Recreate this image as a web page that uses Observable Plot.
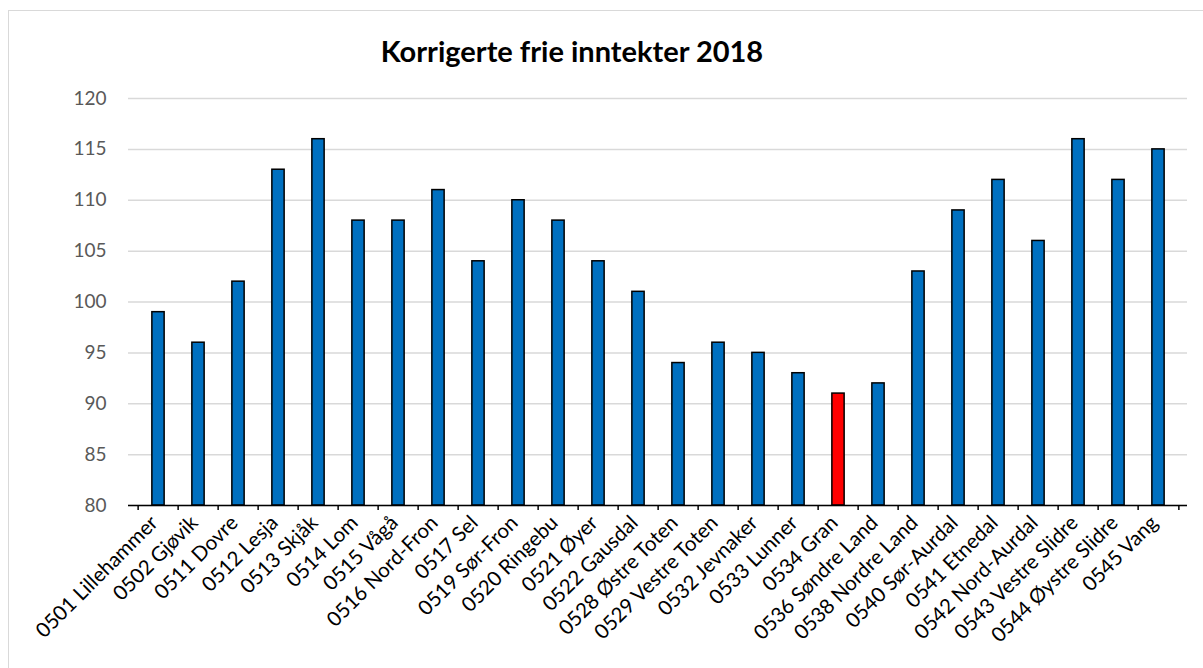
<!DOCTYPE html>
<html>
<head>
<meta charset="utf-8">
<script src="https://cdn.jsdelivr.net/npm/d3@7"></script>
<script src="https://cdn.jsdelivr.net/npm/@observablehq/plot@0.6"></script>
<style>
  html, body { margin: 0; padding: 0; background: #fff; }
  #wrap { position: relative; width: 1203px; height: 668px; overflow: hidden; font-family: Lato, "Open Sans", sans-serif; }
  #frame { position: absolute; left: 8px; top: 10px; width: 1220px; height: 700px; border: 1.5px solid #d9d9d9; box-sizing: border-box; }
  #title { position: absolute; left: 0; width: 1144px; top: 34px; text-align: center; font-weight: 700; font-size: 29px; color: #000; line-height: 34px; }
  #chart { position: absolute; left: 0; top: 75px; }
</style>
</head>
<body>
<div id="wrap">
  <div id="frame"></div>
  <div id="title">Korrigerte frie inntekter 2018</div>
  <div id="chart"></div>
</div>
<script>
const categories = [
  "0501 Lillehammer", "0502 Gjøvik", "0511 Dovre", "0512 Lesja", "0513 Skjåk",
  "0514 Lom", "0515 Vågå", "0516 Nord-Fron", "0517 Sel", "0519 Sør-Fron",
  "0520 Ringebu", "0521 Øyer", "0522 Gausdal", "0528 Østre Toten", "0529 Vestre Toten",
  "0532 Jevnaker", "0533 Lunner", "0534 Gran", "0536 Søndre Land", "0538 Nordre Land",
  "0540 Sør-Aurdal", "0541 Etnedal", "0542 Nord-Aurdal", "0543 Vestre Slidre", "0544 Øystre Slidre",
  "0545 Vang"
];
const values = [
  99, 96, 102, 113, 116,
  108, 108, 111, 104, 110,
  108, 104, 101, 94, 96,
  95, 93, 91, 92, 103,
  109, 112, 106, 116, 112,
  115
];
const highlighted = "0534 Gran";
const yTicks = [80, 85, 90, 95, 100, 105, 110, 115, 120];

const data = categories.map((name, i) => ({name, value: values[i]}));

const W = 1203, H = 593, ML = 128, MR = 16, MT = 23, MB = 163;
const bw = (W - ML - MR) / categories.length;
const barW = 13;
const inset = (bw - barW) / 2;

const chart = Plot.plot({
  width: W, height: H,
  marginLeft: ML, marginRight: MR, marginTop: MT, marginBottom: MB,
  style: { fontFamily: "Lato, 'Open Sans', sans-serif", background: "transparent", overflow: "visible" },
  x: { domain: categories, padding: 0, label: null },
  y: { domain: [80, 120], label: null },
  marks: [
    Plot.gridY(yTicks, { stroke: "#d9d9d9", strokeOpacity: 1, strokeWidth: 1.5 }),
    Plot.barY(data, {
      x: "name", y1: 80, y2: "value",
      fill: d => d.name === highlighted ? "#FF0000" : "#0070C0",
      stroke: "#000", strokeWidth: 1.5,
      insetLeft: inset, insetRight: inset
    }),
    Plot.ruleY([80], { stroke: "#000", strokeWidth: 1.5 }),
    Plot.ruleX(categories, { x: d => d, y1: 80, y2: 79.5, dx: -bw / 2, stroke: "#000", strokeWidth: 1.5 }),
    Plot.ruleX(categories.slice(-1), { x: d => d, y1: 80, y2: 79.5, dx: bw / 2, stroke: "#000", strokeWidth: 1.5 }),
    Plot.axisY(yTicks, { tickSize: 0, tickPadding: 22, fontSize: 19, fill: "#595959", label: null }),
    Plot.axisX({ tickSize: 0, tickPadding: 14, tickRotate: -45, fontSize: 20.5, fill: "#000", dx: -4, label: null })
  ]
});
document.getElementById("chart").appendChild(chart);
</script>
</body>
</html>
